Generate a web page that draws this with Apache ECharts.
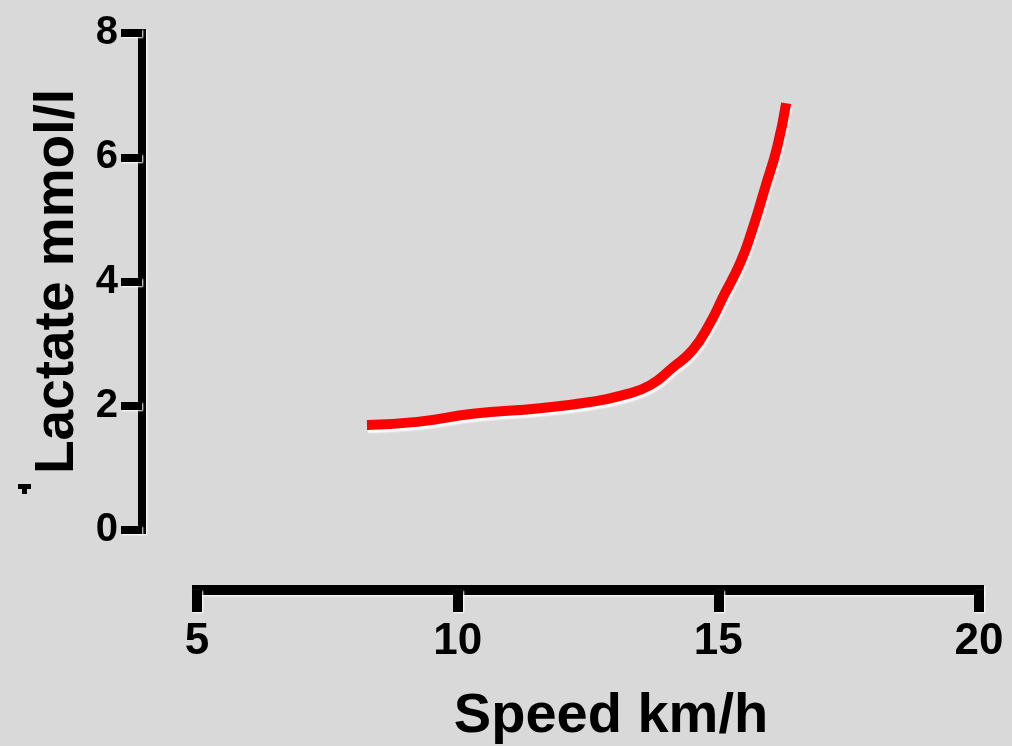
<!DOCTYPE html>
<html>
<head>
<meta charset="utf-8">
<script src="https://cdn.jsdelivr.net/npm/echarts@6/dist/echarts.min.js"></script>
<style>
  html, body { margin: 0; padding: 0; background: #d9d9d9; }
  #chart { width: 1012px; height: 746px; }
</style>
</head>
<body>
<div id="chart"></div>
<script>
// Blood lactate against running speed
const speedKmh = [8.26, 9.22, 10.29, 11.58, 12.54, 13.17, 13.69, 14.13, 14.51, 14.84, 15.09, 15.42, 15.65, 15.90, 16.13, 16.30];
const lactateMmol = [1.69, 1.74, 1.87, 1.96, 2.06, 2.17, 2.33, 2.62, 2.90, 3.33, 3.75, 4.30, 4.83, 5.52, 6.17, 6.87];
const xTickValues = [5, 10, 15, 20];
const yTickValues = [0, 2, 4, 6, 8];
const xTitle = 'Speed km/h';
const yTitle = 'Lactate mmol/l';

const FONT = '"Liberation Sans", Arial, sans-serif';

const halo = { shadowColor: '#ffffff', shadowBlur: 2, shadowOffsetX: 1, shadowOffsetY: 1 };

const chart = echarts.init(document.getElementById('chart'), null, { renderer: 'canvas' });

chart.setOption({
  backgroundColor: '#d9d9d9',
  animation: false,
  grid: { left: 197, right: 33, top: 33, bottom: 216 },
  xAxis: {
    type: 'value',
    min: xTickValues[0],
    max: xTickValues[xTickValues.length - 1],
    interval: xTickValues[1] - xTickValues[0],
    offset: 60,
    splitLine: { show: false },
    axisLine: { show: true, onZero: false, lineStyle: Object.assign({ color: '#000', width: 10, cap: 'square' }, halo) },
    axisTick: { show: true, length: 22, lineStyle: Object.assign({ color: '#000', width: 10 }, halo) },
    axisLabel: {
      color: '#000', fontFamily: FONT, fontWeight: 'bold', fontSize: 44,
      margin: 30
    }
  },
  yAxis: {
    type: 'value',
    min: yTickValues[0],
    max: yTickValues[yTickValues.length - 1],
    interval: yTickValues[1] - yTickValues[0],
    offset: 55,
    splitLine: { show: false },
    axisLine: { show: true, onZero: false, lineStyle: Object.assign({ color: '#000', width: 8, cap: 'square' }, halo) },
    axisTick: { show: true, length: 21, lineStyle: Object.assign({ color: '#000', width: 8 }, halo) },
    axisLabel: {
      color: '#000', fontFamily: FONT, fontWeight: 'bold', fontSize: 40,
      margin: 24
    },
    name: yTitle,
    nameLocation: 'middle',
    nameGap: 53,
    nameTextStyle: { color: '#000', fontFamily: FONT, fontWeight: 'bold', fontSize: 55 }
  },
  graphic: [
    {
      type: 'text',
      x: 611, y: 717,
      style: {
        text: xTitle, fill: '#000', font: 'bold 56px ' + FONT,
        textAlign: 'center', textVerticalAlign: 'middle'
      }
    },
    { type: 'rect', shape: { x: 18, y: 484, width: 13, height: 5 }, style: { fill: '#000' } },
    { type: 'rect', shape: { x: 22, y: 488, width: 5, height: 6 }, style: { fill: '#000' } }
  ],
  series: [
    {
      type: 'line',
      data: speedKmh.map((s, i) => [s, lactateMmol[i]]),
      smooth: 0.5,
      showSymbol: false,
      lineStyle: {
        color: '#ff0000', width: 10, cap: 'butt',
        shadowColor: '#ffffff', shadowBlur: 2, shadowOffsetX: 1, shadowOffsetY: 3
      }
    }
  ]
});
</script>
</body>
</html>
